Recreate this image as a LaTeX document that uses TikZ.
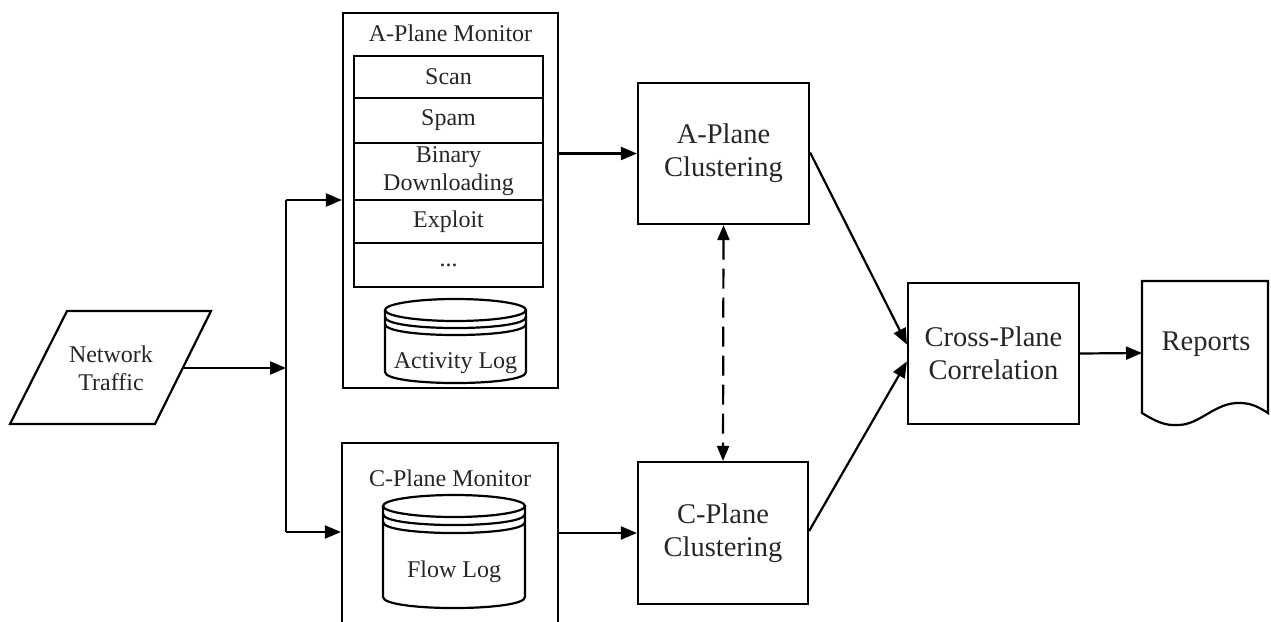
\documentclass[tikz,border=0pt]{standalone}
\usepackage{fontspec}
\setmainfont{Liberation Serif}
\usetikzlibrary{arrows.meta}
\begin{document}
\begin{tikzpicture}[x=1pt,y=-1pt,
  ln/.style={line width=2.2pt, line join=miter},
  box/.style={draw, line width=2.2pt, rectangle, inner sep=0pt},
  arr/.style={line width=2.2pt, -{Triangle[length=16pt,width=13pt]}},
  small/.style={font=\fontsize{24}{28}\selectfont, text=black!85, align=center},
  big/.style={font=\fontsize{28.5}{33}\selectfont, text=black!85, align=center},
]
\useasboundingbox (0,0) rectangle (1271,621);
\clip (0,0) rectangle (1271,621);

% Network traffic (parallelogram)
\draw[ln] (67,311) -- (211,311) -- (155,424) -- (10,424) -- cycle;
\node[small] (nt) at (111,368) {Network\\Traffic};
\coordinate (ntR) at (183,368);
\coordinate (j) at (286,368);
\coordinate (jt) at (286,200);
\coordinate (jb) at (286,532);

% A-Plane monitor
\node[box, minimum width=215pt, minimum height=375pt] (amon) at (450.5,200.5) {};
\node[small] (amt) at (450.5,33) {A-Plane Monitor};
\node[box, small, minimum width=189pt, minimum height=42pt] (scan) at (448.5,77) {Scan};
\node[box, small, minimum width=189pt, minimum height=45pt] (spam) at (448.5,120.5) {Spam};
\node[box, small, minimum width=189pt, minimum height=57pt] (bin) at (448.5,171.5) {Binary\\Downloading};
\node[box, small, minimum width=189pt, minimum height=43pt] (expl) at (448.5,221.5) {Exploit};
\node[box, small, minimum width=189pt, minimum height=44pt] (dots) at (448.5,265) {...};

% Activity log cylinder
\draw[ln] (455.5,310) ellipse [x radius=70.5pt, y radius=11pt];
\draw[ln] (385,317) .. controls (385,331.7) and (526,331.7) .. (526,317);
\draw[ln] (385,324) .. controls (385,338.7) and (526,338.7) .. (526,324);
\draw[ln] (385,310) -- (385,372) .. controls (385,386.7) and (526,386.7) .. (526,372) -- (526,310);
\node[small] (alog) at (455.5,363) {Activity Log};

% C-Plane monitor
\node[box, minimum width=216pt, minimum height=217pt] (cmon) at (450,551.5) {};
\node[small] (cmt) at (450,478) {C-Plane Monitor};
\draw[ln] (454,506) ellipse [x radius=71pt, y radius=11pt];
\draw[ln] (383,514) .. controls (383,528.7) and (525,528.7) .. (525,514);
\draw[ln] (383,522) .. controls (383,536.7) and (525,536.7) .. (525,522);
\draw[ln] (383,506) -- (383,597) .. controls (383,611.7) and (525,611.7) .. (525,597) -- (525,506);
\node[small] (flog) at (454,572) {Flow Log};

% Clustering and correlation
\node[box, big, minimum width=171pt, minimum height=141pt] (acl) at (723.5,153.5) {A-Plane\\Clustering};
\node[box, big, minimum width=170pt, minimum height=142pt] (ccl) at (723,533) {C-Plane\\Clustering};
\node[box, big, minimum width=171pt, minimum height=141pt] (cpc) at (993.5,353.5) {Cross-Plane\\Correlation};

% Reports (document shape)
\draw[ln] (1142,413) -- (1142,281) -- (1268,281) -- (1268,413)
  .. controls (1260,408) and (1252,403) .. (1240,403)
  .. controls (1215,402) and (1200,425) .. (1178,425)
  .. controls (1165,426) and (1155,421) .. (1142,413) -- cycle;
\node[big] (rep) at (1206,344) {Reports};
\coordinate (repL) at (1142,353);

% connectors
\draw[arr] (ntR) -- (j);
\draw[ln] (jt) -- (jb);
\draw[arr] (jt) -- (amon.west |- jt);
\draw[arr] (jb) -- (cmon.west |- jb);
\draw[arr] (amon.east |- acl.west) -- (acl.west);
\draw[arr] (cmon.east |- ccl.west) -- (ccl.west);
\draw[line width=2.2pt, dash pattern=on 20pt off 9pt,
  {Triangle[length=15pt,width=12pt]}-{Triangle[length=15pt,width=12pt]}] (acl.south) -- (ccl.north);
\draw[arr] ([yshift=1pt]acl.east) -- ([yshift=9pt]cpc.west);
\draw[arr] ([yshift=2pt]ccl.east) -- ([yshift=-8pt]cpc.west);
\draw[arr] (cpc.east) -- (repL);
\end{tikzpicture}
\end{document}
